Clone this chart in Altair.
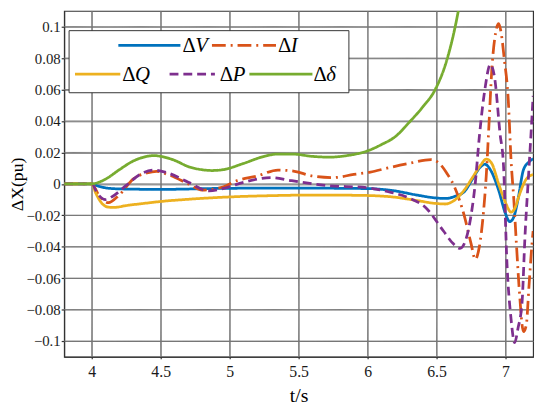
import altair as alt
import pandas as pd

# ---------------- data ----------------
series_names = ["ΔV", "ΔI", "ΔQ", "ΔP", "Δδ"]
series_letters = ["V", "I", "Q", "P", "δ"]
series_colors = ["#0072BD", "#D95319", "#EDB120", "#7E2F8E", "#77AC30"]
series_dashes = [[1, 0], [14, 5, 2, 5], [1, 0], [9, 5], [1, 0]]

t_V = [3.8, 4.0, 4.04, 4.1, 4.2, 4.5, 5.0, 5.5, 6.0, 6.2, 6.35, 6.5, 6.57, 6.63,
       6.7, 6.76, 6.81, 6.85, 6.89, 6.95, 7.0, 7.03, 7.06, 7.09, 7.13, 7.17, 7.2]
v_V = [0, 0, -0.0012, -0.0025, -0.0032, -0.0035, -0.0028, -0.0027, -0.003, -0.0045,
       -0.007, -0.009, -0.0093, -0.008, -0.005, 0.003, 0.010, 0.0125, 0.009, -0.004,
       -0.019, -0.024, -0.021, -0.010, 0.009, 0.014, 0.016]

t_I = [3.8, 4.0, 4.05, 4.12, 4.2, 4.3, 4.4, 4.47, 4.55, 4.7, 4.8, 4.9, 4.95, 5.05,
       5.2, 5.35, 5.47, 5.6, 5.75, 5.9, 6.02, 6.14, 6.3, 6.46, 6.52, 6.58, 6.63,
       6.7, 6.75, 6.78, 6.81, 6.84, 6.86, 6.88, 6.9, 6.93, 6.95, 6.97, 6.99, 7.02,
       7.04, 7.06, 7.08, 7.1, 7.13, 7.15, 7.17, 7.19, 7.2]
v_I = [0, 0, -0.007, -0.012, -0.007, 0.003, 0.007, 0.008, 0.006, 0.0, -0.004,
       -0.003, -0.002, 0.002, 0.005, 0.0088, 0.008, 0.005, 0.004, 0.006, 0.0075,
       0.010, 0.013, 0.0155, 0.013, 0.006, -0.002, -0.02, -0.038, -0.048, -0.04,
       -0.018, 0.005, 0.038, 0.072, 0.097, 0.102, 0.095, 0.08, 0.053, 0.015,
       -0.01, -0.04, -0.068, -0.094, -0.09, -0.065, -0.04, -0.03]

t_Q = [3.8, 4.0, 4.03, 4.07, 4.12, 4.16, 4.25, 4.4, 4.5, 4.7, 5.0, 5.3, 5.5, 5.8,
       6.0, 6.2, 6.35, 6.5, 6.56, 6.62, 6.7, 6.76, 6.82, 6.86, 6.9, 6.95, 7.0,
       7.04, 7.07, 7.1, 7.15, 7.2]
v_Q = [0, 0, -0.006, -0.012, -0.0148, -0.015, -0.0138, -0.0122, -0.0112, -0.0098,
       -0.0083, -0.0075, -0.0072, -0.0072, -0.0074, -0.0085, -0.0105, -0.0125,
       -0.0128, -0.011, -0.004, 0.004, 0.012, 0.0158, 0.013, 0.0, -0.012, -0.018,
       -0.015, -0.007, 0.003, 0.006]

t_P = [3.8, 4.0, 4.04, 4.1, 4.15, 4.25, 4.35, 4.45, 4.55, 4.7, 4.85, 4.95, 5.1,
       5.3, 5.45, 5.7, 6.0, 6.15, 6.3, 6.42, 6.55, 6.62, 6.67, 6.71, 6.75, 6.78,
       6.81, 6.85, 6.89, 6.92, 6.96, 6.985, 7.01, 7.04, 7.066, 7.09, 7.12, 7.14,
       7.17, 7.19, 7.2]
v_P = [0, 0, -0.006, -0.010, -0.008, -0.001, 0.006, 0.0088, 0.007, 0.001, -0.0045,
       -0.003, 0.001, 0.004, 0.002, -0.001, -0.0025, -0.005, -0.009, -0.015, -0.030,
       -0.038, -0.041, -0.036, -0.02, 0.0, 0.03, 0.06, 0.076, 0.068, 0.032, 0.012,
       -0.05, -0.086, -0.101, -0.092, -0.075, -0.035, 0.01, 0.04, 0.056]

t_D = [3.8, 4.0, 4.05, 4.1, 4.2, 4.3, 4.4, 4.45, 4.5, 4.6, 4.7, 4.8, 4.87, 4.95,
       5.1, 5.25, 5.35, 5.45, 5.6, 5.72, 5.85, 6.0, 6.1, 6.2, 6.3, 6.4, 6.49, 6.57,
       6.63, 6.66, 6.7]
v_D = [0, 0, 0.001, 0.003, 0.009, 0.0145, 0.0175, 0.018, 0.0175, 0.015, 0.011,
       0.009, 0.0085, 0.009, 0.013, 0.0175, 0.019, 0.019, 0.0175, 0.017, 0.018,
       0.021, 0.025, 0.030, 0.039, 0.049, 0.060, 0.0775, 0.098, 0.111, 0.13]

series_t = [t_V, t_I, t_Q, t_P, t_D]
series_v = [v_V, v_I, v_Q, v_P, v_D]

x_ticks = [4, 4.5, 5, 5.5, 6, 6.5, 7]
y_ticks = [-0.1, -0.08, -0.06, -0.04, -0.02, 0, 0.02, 0.04, 0.06, 0.08, 0.1]
x_domain = [3.8, 7.2]
y_domain = [-0.11, 0.11]

# ---------------- layout / style ----------------
W, H = 476, 351
FONT = "Liberation Serif, Times New Roman, serif"
GRID = "#777777"

common_axis = dict(grid=True, gridColor=GRID, gridWidth=1, gridOpacity=1,
                   domain=True, domainColor="#333333", domainWidth=1.2,
                   ticks=True, tickColor="#333333", tickWidth=1.2,
                   labelFont=FONT, labelColor="#1a1a1a",
                   titleFont=FONT, titleFontWeight="normal",
                   titleColor="#000000", labelFlush=False, format="~g")

x_scale = alt.Scale(domain=x_domain, nice=False, zero=False)
y_scale = alt.Scale(domain=y_domain, nice=False, zero=False)

x_enc = alt.X(
    "t:Q", scale=x_scale,
    axis=alt.Axis(values=x_ticks, title="t/s", titlePadding=6, labelPadding=5,
                  tickSize=2, labelFontSize=16, titleFontSize=20, **common_axis),
)
y_enc = alt.Y(
    "v:Q", scale=y_scale,
    axis=alt.Axis(values=y_ticks, title="ΔX(pu)", titleX=-47,
                  titleBaseline="middle", labelPadding=1,
                  tickSize=3, labelFontSize=15, titleFontSize=18, **common_axis),
)

# grid lines drawn from the tick arrays through the scales
grid_x = (alt.Chart(pd.DataFrame({"t": x_ticks}))
          .mark_rule(color=GRID, strokeWidth=1, strokeDash=[1, 0], opacity=1)
          .encode(x=x_enc))
grid_y = (alt.Chart(pd.DataFrame({"v": y_ticks}))
          .mark_rule(color=GRID, strokeWidth=1, strokeDash=[1, 0], opacity=1)
          .encode(y=y_enc))

layers = [grid_x, grid_y]
for name, ts, vs, col, dash in zip(series_names, series_t, series_v,
                                   series_colors, series_dashes):
    df = pd.DataFrame({"t": ts, "v": vs, "s": name})
    layers.append(
        alt.Chart(df).mark_line(color=col, strokeDash=dash, strokeWidth=2.8,
                                interpolate="monotone", clip=True)
        .encode(x=x_enc, y=y_enc)
    )

# ---------------- legend (decoration, plot-area pixels) ----------------
one = alt.Data(values=[{"k": 1}])
legend_layers = [
    alt.Chart(one).mark_rect(fill="white", stroke="#333", strokeWidth=1)
    .encode(x=alt.value(5), x2=alt.value(289), y=alt.value(20), y2=alt.value(83))
]
# line start, line end, row y, label x
legend_layout = [
    (55, 118, 35, 120),
    (150, 215, 35, 217),
    (11, 57, 64, 59),
    (107, 153, 64, 158),
    (188, 252, 64, 253),
]
for (x1, x2, yy, lx), letter, col, dash in zip(legend_layout, series_letters,
                                              series_colors, series_dashes):
    legend_layers.append(
        alt.Chart(one).mark_rule(color=col, strokeDash=dash, strokeWidth=2.8)
        .encode(x=alt.value(x1), x2=alt.value(x2), y=alt.value(yy))
    )
    legend_layers.append(
        alt.Chart(one).mark_text(text="Δ", font=FONT, fontSize=21, align="left",
                                 baseline="middle", color="#000")
        .encode(x=alt.value(lx), y=alt.value(yy + 1))
    )
    legend_layers.append(
        alt.Chart(one).mark_text(text=letter, font=FONT, fontSize=21,
                                 fontStyle="italic", align="left",
                                 baseline="middle", color="#000")
        .encode(x=alt.value(lx + 13), y=alt.value(yy + 1))
    )

chart = (
    alt.layer(*layers, *legend_layers)
    .properties(width=W, height=H,
                autosize=alt.AutoSizeParams(type="none"),
                padding={"left": 57, "top": 0, "right": 9, "bottom": 51})
    .configure(background="white", font=FONT,
               view=alt.ViewConfig(stroke="#333333", strokeWidth=1.2))
)

chart.save("out.html", embed_options={"renderer": "svg", "actions": False})
